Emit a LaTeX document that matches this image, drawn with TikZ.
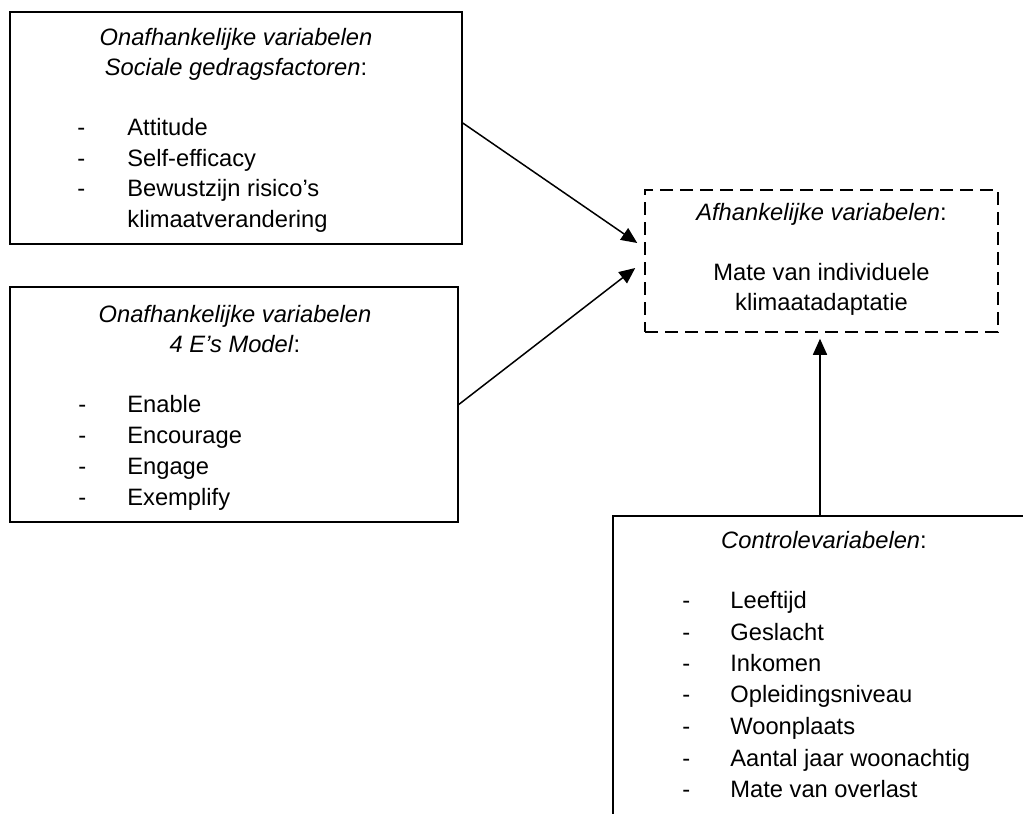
\documentclass[tikz,border=0pt]{standalone}
\usepackage{fontspec}
\setmainfont{Liberation Sans}
\usetikzlibrary{arrows.meta,calc}

\begin{document}
\begin{tikzpicture}[x=0.5pt,y=-0.5pt,
  every node/.style={font=\fontsize{11.85pt}{14pt}\selectfont, inner sep=0pt},
  box/.style={draw, line width=0.75pt, rectangle},
  depbox/.style={draw, line width=0.75pt, rectangle, dash pattern=on 6.5pt off 3.5pt},
  txt/.style={anchor=base},
  dashitem/.style={anchor=base west},
  arr/.style={line width=0.75pt, -{Triangle[length=8pt,width=7pt]}}
]
\useasboundingbox (0,0) rectangle (1023,814);
\clip (0,0) rectangle (1023,814);

% boxes
\node[box, minimum width=226pt, minimum height=116pt] (soc) at (236,128) {};
\node[box, minimum width=224pt, minimum height=117.5pt] (fourE) at (234,404.5) {};
\node[depbox, minimum width=176.5pt, minimum height=71pt] (dep) at (821.5,261) {};
\node[box, minimum width=213.5pt, minimum height=162pt] (ctrl) at (826.5,678) {};

% social behaviour factors
\node[txt] (s1) at (236,45) {\itshape Onafhankelijke variabelen};
\node[txt] (s2) at (236,75) {\textit{Sociale gedragsfactoren}:};
\node[dashitem] (sd1) at (77,135) {-};
\node[dashitem] (sd2) at (77,166) {-};
\node[dashitem] (sd3) at (77,196) {-};
\node[dashitem] (si1) at (127,135) {Attitude};
\node[dashitem] (si2) at (127,166) {Self-efficacy};
\node[dashitem] (si3) at (127,196) {Bewustzijn risico’s};
\node[dashitem] (si4) at (127,227) {klimaatverandering};

% 4 E's model
\node[txt] (e1) at (235,322) {\itshape Onafhankelijke variabelen};
\node[txt] (e2) at (235,352) {\textit{4 E’s Model}:};
\node[dashitem] (ed1) at (78,412) {-};
\node[dashitem] (ed2) at (78,443) {-};
\node[dashitem] (ed3) at (78,474) {-};
\node[dashitem] (ed4) at (78,505) {-};
\node[dashitem] (ei1) at (127,412) {Enable};
\node[dashitem] (ei2) at (127,443) {Encourage};
\node[dashitem] (ei3) at (127,474) {Engage};
\node[dashitem] (ei4) at (127,505) {Exemplify};

% dependent variable
\node[txt] (d1) at (821.5,220) {\textit{Afhankelijke variabelen}:};
\node[txt] (d2) at (821.5,280) {Mate van individuele};
\node[txt] (d3) at (821.5,310) {klimaatadaptatie};

% control variables
\node[txt] (c0) at (824,548) {\textit{Controlevariabelen}:};
\node[dashitem] (cd1) at (682,608) {-};
\node[dashitem] (cd2) at (682,640) {-};
\node[dashitem] (cd3) at (682,671) {-};
\node[dashitem] (cd4) at (682,702) {-};
\node[dashitem] (cd5) at (682,734) {-};
\node[dashitem] (cd6) at (682,766) {-};
\node[dashitem] (cd7) at (682,797) {-};
\node[dashitem] (ci1) at (730,608) {Leeftijd};
\node[dashitem] (ci2) at (730,640) {Geslacht};
\node[dashitem] (ci3) at (730,671) {Inkomen};
\node[dashitem] (ci4) at (730,702) {Opleidingsniveau};
\node[dashitem] (ci5) at (730,734) {Woonplaats};
\node[dashitem] (ci6) at (730,766) {Aantal jaar woonachtig};
\node[dashitem] (ci7) at (730,797) {Mate van overlast};

% arrow end points just outside the dependent box
\coordinate (tipA) at ($(dep.west)+(-7,-18)$);
\coordinate (tipB) at ($(dep.west)+(-9,7)$);
\coordinate (tipC) at ($(dep.south)+(-1.5,6)$);
\coordinate (startA) at ($(soc.east)+(0,-5)$);
\coordinate (startC) at (ctrl.north -| tipC);

% connectors
\draw[arr] (startA) -- (tipA);
\draw[arr] (fourE.east) -- (tipB);
\draw[arr] (startC) -- (tipC);
\end{tikzpicture}
\end{document}
